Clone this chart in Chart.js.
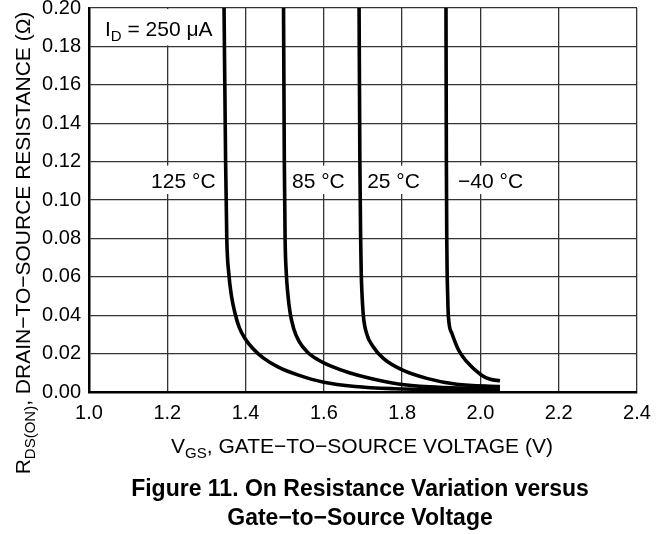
<!DOCTYPE html>
<html lang="en">
<head>
  <meta charset="UTF-8" />
  <title>Figure 11 - On Resistance Variation versus Gate-to-Source Voltage</title>
  <script src="https://cdn.jsdelivr.net/npm/chart.js"></script>
  <style>
    html, body { margin: 0; padding: 0; background: #fff; }
    #wrap { width: 661px; height: 534px; }
  </style>
</head>
<body>
  <div id="wrap">
    <canvas id="myChart" width="661" height="534"></canvas>
  </div>

  <script>
    // values (VGS in V, RDS(on) in ohm)
    const vgs125 = [1.345, 1.349, 1.352, 1.357, 1.364, 1.373, 1.384, 1.398, 1.418, 1.445, 1.485, 1.535, 1.600, 1.680, 1.780, 1.900, 2.050];
    const rds125 = [0.200, 0.120, 0.080, 0.062, 0.050, 0.041, 0.0335, 0.0280, 0.0228, 0.0178, 0.0128, 0.0088, 0.0051, 0.0029, 0.0017, 0.0011, 0.0008];

    const vgs85 = [1.497, 1.499, 1.501, 1.504, 1.508, 1.514, 1.523, 1.537, 1.557, 1.585, 1.620, 1.665, 1.720, 1.790, 1.870, 1.960, 2.050];
    const rds85 = [0.200, 0.120, 0.080, 0.062, 0.051, 0.041, 0.033, 0.0262, 0.0210, 0.0168, 0.0133, 0.0100, 0.0070, 0.0042, 0.0027, 0.0020, 0.0017];

    const vgs25 = [1.690, 1.692, 1.694, 1.6955, 1.697, 1.701, 1.709, 1.726, 1.752, 1.800, 1.863, 1.939, 2.050];
    const rds25 = [0.200, 0.120, 0.080, 0.062, 0.053, 0.0396, 0.0306, 0.0236, 0.0175, 0.0115, 0.0071, 0.0040, 0.0028];

    const vgsM40 = [1.912, 1.913, 1.914, 1.915, 1.916, 1.918, 1.927, 1.944, 1.965, 2.002, 2.025, 2.050];
    const rdsM40 = [0.200, 0.120, 0.080, 0.062, 0.053, 0.0396, 0.0306, 0.0219, 0.0158, 0.0089, 0.0066, 0.0059];

    const xTicks = ['1.0', '1.2', '1.4', '1.6', '1.8', '2.0', '2.2', '2.4'];
    const yTicks = ['0.00', '0.02', '0.04', '0.06', '0.08', '0.10', '0.12', '0.14', '0.16', '0.18', '0.20'];

    const tempLabels = ['125 °C', '85 °C', '25 °C', '\u221240 °C'];
    const tempLabelV = [1.241, 1.586, 1.778, 2.026];
    const tempLabelR = 0.110;

    const FONT = '"Liberation Sans", Arial, Helvetica, sans-serif';

    function pts(xs, ys) {
      return xs.map((v, i) => ({ x: v, y: ys[i] }));
    }

    function curve(xs, ys) {
      return {
        data: pts(xs, ys),
        borderColor: '#000',
        borderWidth: 3.6,
        pointRadius: 0,
        showLine: true,
        fill: false,
        cubicInterpolationMode: 'monotone'
      };
    }

    // text with subscripts: parts = [[text, isSub], ...]
    function partsWidth(ctx, parts, size) {
      let w = 0;
      parts.forEach(p => {
        ctx.font = (p[1] ? Math.round(size * 0.72) : size) + 'px ' + FONT;
        w += ctx.measureText(p[0]).width;
      });
      return w;
    }
    function drawParts(ctx, parts, x, y, size) {
      let cx = x;
      parts.forEach(p => {
        ctx.font = (p[1] ? Math.round(size * 0.72) : size) + 'px ' + FONT;
        ctx.fillText(p[0], cx, p[1] ? y + size * 0.25 : y);
        cx += ctx.measureText(p[0]).width;
      });
    }

    const labelsPlugin = {
      id: 'labels',
      beforeDatasetsDraw(chart) {
        const { ctx, scales: { x, y } } = chart;
        ctx.save();
        ctx.textBaseline = 'alphabetic';
        ctx.textAlign = 'left';

        // temperature labels on white boxes
        const boxTop = y.getPixelForValue(0.12) + 4;
        const boxBot = y.getPixelForValue(0.10) - 6;
        ctx.font = '21px ' + FONT;
        tempLabels.forEach((t, i) => {
          const w = ctx.measureText(t).width;
          const cx = x.getPixelForValue(tempLabelV[i]);
          ctx.fillStyle = '#fff';
          ctx.fillRect(cx - w / 2 - 4, boxTop, w + 8, boxBot - boxTop);
          ctx.fillStyle = '#000';
          ctx.fillText(t, cx - w / 2, y.getPixelForValue(tempLabelR) + 7.5);
        });

        // I_D label box
        const l = x.left + 2;
        const r = x.getPixelForValue(1.335);
        ctx.fillStyle = '#fff';
        ctx.fillRect(l, y.top + 1, r - l, y.getPixelForValue(0.18) - y.top - 2);
        ctx.fillStyle = '#000';
        drawParts(ctx, [['I', false], ['D', true], [' = 250 \u03bcA', false]], 105, 36, 21);
        ctx.restore();
      },
      afterDraw(chart) {
        const { ctx } = chart;
        ctx.save();
        ctx.fillStyle = '#000';
        ctx.textAlign = 'left';
        ctx.textBaseline = 'alphabetic';

        // y axis title
        const yParts = [['R', false], ['DS(ON)', true], [', DRAIN\u2212TO\u2212SOURCE RESISTANCE (\u03a9)', false]];
        ctx.save();
        ctx.translate(30, 243);
        ctx.rotate(-Math.PI / 2);
        const yw = partsWidth(ctx, yParts, 21);
        drawParts(ctx, yParts, -yw / 2, 0, 21);
        ctx.restore();

        // x axis title
        const xParts = [['V', false], ['GS', true], [', GATE\u2212TO\u2212SOURCE VOLTAGE (V)', false]];
        const xw = partsWidth(ctx, xParts, 21);
        drawParts(ctx, xParts, 362 - xw / 2, 453, 21);

        // caption
        ctx.font = 'bold 23px ' + FONT;
        ctx.textAlign = 'center';
        ctx.fillText('Figure 11. On Resistance Variation versus', 360, 496);
        ctx.fillText('Gate\u2212to\u2212Source Voltage', 360, 525);
        ctx.restore();
      }
    };

    const ctx = document.getElementById('myChart').getContext('2d');
    const myChart = new Chart(ctx, {
      type: 'scatter',
      data: {
        datasets: [
          curve(vgs125, rds125),
          curve(vgs85, rds85),
          curve(vgs25, rds25),
          curve(vgsM40, rdsM40)
        ]
      },
      options: {
        responsive: false,
        animation: false,
        layout: { padding: { left: 0, right: 24, top: 8, bottom: 0 } },
        plugins: {
          legend: { display: false },
          tooltip: { enabled: false }
        },
        scales: {
          x: {
            type: 'linear',
            min: 1.0,
            max: 2.4,
            afterFit: s => { s.height = 142; s.paddingLeft = 0; s.paddingRight = 0; },
            afterBuildTicks: s => { s.ticks = xTicks.map(t => ({ value: parseFloat(t) })); },
            ticks: {
              color: '#000',
              font: { family: FONT, size: 20 },
              padding: 9,
              maxRotation: 0,
              callback: (v) => v.toFixed(1)
            },
            grid: { color: '#333', lineWidth: 1.3, drawTicks: false },
            border: { color: '#000', width: 2.5 }
          },
          y: {
            type: 'linear',
            min: 0,
            max: 0.2,
            afterFit: s => { s.width = 89; s.paddingTop = 0; s.paddingBottom = 0; },
            afterBuildTicks: s => { s.ticks = yTicks.map(t => ({ value: parseFloat(t) })); },
            ticks: {
              color: '#000',
              font: { family: FONT, size: 20 },
              padding: 8,
              callback: (v) => v.toFixed(2)
            },
            grid: { color: '#333', lineWidth: 1.3, drawTicks: false },
            border: { color: '#000', width: 2.5 }
          }
        }
      },
      plugins: [labelsPlugin]
    });
  </script>
</body>
</html>
